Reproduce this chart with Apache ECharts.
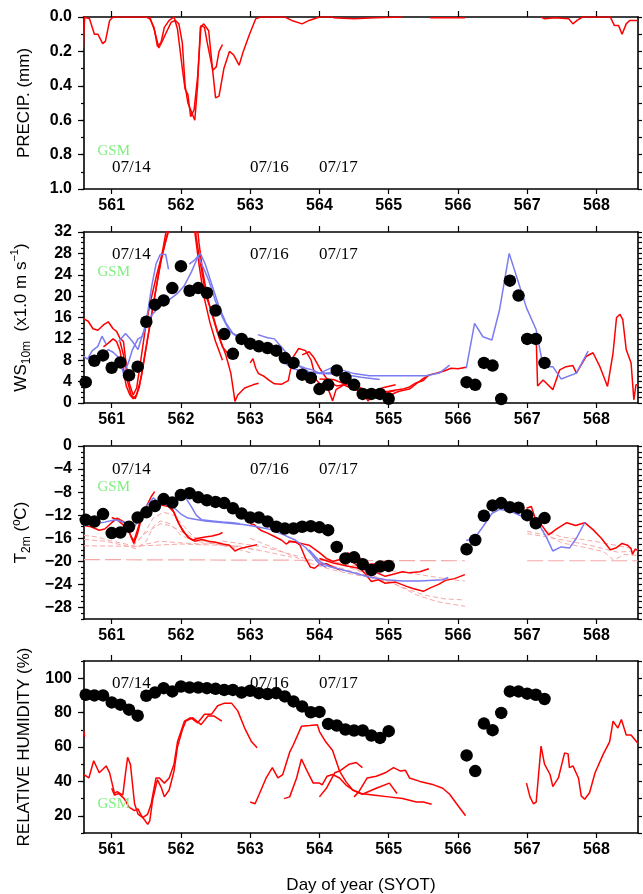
<!DOCTYPE html>
<html><head><meta charset="utf-8">
<script src="https://cdn.jsdelivr.net/npm/echarts@6/dist/echarts.min.js"></script>
<style>html,body{margin:0;padding:0;background:#fff}#c{width:643px;height:894px}</style>
</head><body><div id="c"></div>
<script>
// ---------------- DATA ----------------
const dayTicks = [561,562,563,564,565,566,567,568];
const precipTicks = [0,0.2,0.4,0.6,0.8,1.0];
const wsTicks = [0,4,8,12,16,20,24,28,32];
const tTicks = [0,-4,-8,-12,-16,-20,-24,-28];
const rhTicks = [20,40,60,80,100];

const obsDay = [560.625,560.75,560.875,561,561.125,561.25,561.375,561.5,561.625,561.75,561.875,562,562.125,562.25,562.375,562.5,562.625,562.75,562.875,563,563.125,563.25,563.375,563.5,563.625,563.75,563.875,564,564.125,564.25,564.375,564.5,564.625,564.75,564.875,565,566.125,566.25,566.375,566.5,566.625,566.75,566.875,567,567.125,567.25];
const obsWS = [3.9,7.9,8.9,6.6,7.6,5.2,6.8,15.2,18.4,19.2,21.5,25.6,21.0,21.5,20.6,17.3,12.9,9.2,12.0,11.1,10.6,10.3,9.8,8.4,7.5,5.3,4.7,2.6,3.4,6.1,4.7,3.4,1.7,1.7,1.7,0.8,3.9,3.4,7.5,7.0,0.75,22.9,20.1,12.0,12.0,7.5];
const obsT = [-12.8,-13.1,-11.8,-15.1,-15.0,-14.0,-12.4,-11.5,-10.4,-9.2,-9.8,-8.5,-8.2,-8.9,-9.4,-9.7,-9.9,-10.8,-11.7,-12.4,-12.4,-13.1,-14.0,-14.3,-14.3,-14.0,-13.9,-14.1,-14.6,-17.5,-19.5,-19.3,-20.5,-21.5,-20.9,-20.8,-17.9,-16.3,-12.1,-10.3,-9.9,-10.6,-10.7,-12.0,-13.4,-12.5];
const obsRH = [90.4,90.0,90.0,85.9,84.6,81.7,78.2,89.8,91.7,94.2,92.3,95.2,94.6,94.6,94.2,93.8,93.2,93.2,91.7,92.7,91.3,90.8,91.3,89.4,86.5,83.6,80.2,80.4,73.4,72.5,70.2,69.6,69.6,66.7,65.3,69.2,55.1,46.0,73.6,69.8,79.8,92.3,92.3,91.0,90.4,87.9];

const precipRed = [
 [[560.59,0.18],[560.6,0.08],[560.61,0.0]],
 [[560.6,0.0],[560.68,0.01],[560.75,0.1],[560.8,0.1],[560.87,0.155],[560.91,0.14],[560.97,0.02],[561.02,0.0],[561.5,0.0],[561.55,0.01],[561.61,0.06],[561.66,0.17],[561.71,0.15],[561.76,0.06],[561.83,0.02],[561.9,0.0],[561.95,0.07],[562.02,0.3],[562.06,0.42],[562.1,0.45],[562.14,0.58],[562.19,0.54],[562.24,0.35],[562.29,0.05],[562.34,0.06],[562.38,0.15],[562.46,0.31],[562.51,0.29],[562.55,0.2],[562.6,0.16]],
 [[561.55,0.0],[561.62,0.08],[561.68,0.18],[561.73,0.14],[561.8,0.08],[561.86,0.03],[561.92,0.02],[561.97,0.04],[562.02,0.15],[562.06,0.4],[562.1,0.5],[562.15,0.55],[562.2,0.6],[562.24,0.4],[562.28,0.06],[562.33,0.04],[562.4,0.08],[562.45,0.28],[562.5,0.47],[562.55,0.46],[562.62,0.3],[562.7,0.2],[562.76,0.22],[562.84,0.28],[562.9,0.2],[562.99,0.1],[563.08,0.01],[563.15,0.0],[563.5,0.0],[563.6,0.02],[563.75,0.04],[563.85,0.02],[564.0,0.0],[564.2,0.0]],
 [[564.2,0.005],[564.5,0.01],[564.8,0.005],[565.2,0.0]],
 [[565.6,0.005],[566.1,0.005]],
 [[567.2,0.0],[567.25,0.01],[567.4,0.005],[567.6,0.01],[567.66,0.04],[567.72,0.02],[567.8,0.0],[568.0,0.0]],
 [[568.0,0.0],[568.2,0.0],[568.26,0.05],[568.32,0.05],[568.37,0.1],[568.43,0.04],[568.48,0.02],[568.55,0.02],[568.6,0.02]]
];

const wsRed = [
 [[560.59,15.8],[560.66,15.3],[560.73,13.9],[560.8,13.6],[560.88,14.6],[560.95,15.2],[561.02,13.9],[561.07,13.4],[561.12,12.1],[561.17,11.5],[561.21,7.1],[561.26,3.4],[561.31,1.5],[561.36,2.8],[561.41,7.1],[561.48,13.4],[561.55,18.4],[561.65,24],[561.74,28.4],[561.82,32.1],[561.9,35],[562.15,35],[562.2,32],[562.26,26],[562.33,20],[562.42,15],[562.5,11.5],[562.6,8]],
 [[560.88,10.5],[560.95,11.2],[561.02,12],[561.07,11.5],[561.12,9.8],[561.17,6],[561.21,3.2],[561.26,1.6],[561.31,0.8],[561.36,1.6],[561.43,5],[561.5,10.5],[561.57,16],[561.64,21.5],[561.72,27],[561.8,31.5],[561.85,35],[562.2,35],[562.22,31],[562.27,27],[562.36,20.1],[562.47,16],[562.56,12.1],[562.65,8.9],[562.72,5.6],[562.76,2.1],[562.78,0.3],[562.82,1.5],[562.92,2.8],[563.04,3.4],[563.12,3.7]],
 [[561.12,11.5],[561.17,9],[561.22,4.5],[561.28,1.5],[561.34,0.8],[561.4,3],[561.47,8.5],[561.55,14.5],[561.63,20.5],[561.7,26],[561.77,31],[561.82,35],[562.22,35],[562.26,30],[562.31,25],[562.38,20],[562.45,16.5],[562.53,13],[562.6,10.5],[562.68,9.2],[562.72,8.5]],
 [[563.0,7.5],[563.04,8.3],[563.08,6.5],[563.12,5.5],[563.2,5],[563.28,4.2],[563.35,3.6],[563.45,3.5],[563.55,4.2],[563.62,8.6],[563.7,10.2],[563.8,9.8],[563.88,8],[563.95,4.4],[564.04,3.1],[564.12,2.8],[564.19,0.4],[564.24,2.5],[564.35,3.4],[564.5,2.5],[564.62,2.2],[564.7,0.4],[564.78,1.5],[564.9,2.8],[565.1,3.4]],
 [[563.75,9],[563.85,9.6],[563.92,8.5],[564.0,6.6],[564.08,5],[564.15,3.8],[564.25,3.2],[564.35,3.4],[564.45,4],[564.55,3.2],[564.65,2.4],[564.8,2.2],[564.95,1.8],[565.1,2.4]],
 [[564.0,4.5],[564.2,4.4],[564.4,3.4],[564.6,2.6],[564.8,1.9],[565.0,2.2],[565.2,2.6],[565.3,3],[565.4,3.8],[565.5,4.2],[565.58,5.3]],
 [[565.0,1.4],[565.15,2.2],[565.3,2.6],[565.4,3.6],[565.5,4.6],[565.6,5.3],[565.7,5.6],[565.8,6.0],[565.9,6.5],[566.0,6.4],[566.12,6.7]],
 [[566.99,12.8],[567.06,12.6],[567.13,12.2],[567.15,3.2],[567.23,4.3],[567.37,2.5],[567.47,6.2],[567.56,6.8],[567.66,7.0],[567.71,5.6],[567.85,8.7],[567.95,9.4],[568.05,6.8],[568.16,3.1],[568.24,9.4],[568.29,16],[568.34,16.6],[568.38,15.6],[568.43,10],[568.5,7.5],[568.54,0.6],[568.57,3.4],[568.6,3.4]]
];

const wsBlue = [
 [[560.59,8.8],[560.65,8.2],[560.72,9.8],[560.8,10.6],[560.86,12.5],[560.92,11]],
 [[560.88,9],[560.95,10],[561.02,9.5],[561.1,8.5],[561.17,5.5],[561.24,7.5],[561.3,10],[561.38,12],[561.45,12.5],[561.52,17],[561.58,22],[561.64,26],[561.7,27.8],[561.78,27.8],[561.82,25]],
 [[561.1,11.5],[561.2,13],[561.3,11.5],[561.38,10],[561.45,13],[561.55,16],[561.65,17.5],[561.8,19],[561.95,20.5],[562.05,22],[562.15,24.5],[562.25,27.5],[562.3,26],[562.4,23],[562.5,19],[562.6,16],[562.7,13.5],[562.8,12.5],[562.9,12],[563.0,11.5],[563.1,11],[563.25,10.2],[563.4,9.5],[563.5,8.5],[563.6,7.5],[563.7,7],[563.8,6.5],[563.9,6.2],[564.0,5.6],[564.1,5.6],[564.2,5.7]],
 [[562.12,26],[562.2,26.8],[562.28,28],[562.35,26],[562.45,22],[562.55,18],[562.65,15],[562.75,13],[562.85,12.3]],
 [[563.11,12.8],[563.25,12.2],[563.35,12.0],[563.45,10.5],[563.55,9],[563.65,7.5],[563.75,6.5],[563.85,5.8],[564.0,5.6],[564.23,6.9],[564.34,6.1],[564.5,5.5],[564.72,5.1],[565.0,5.1],[565.3,5.1],[565.54,5.1],[565.73,5.6],[565.88,7.1]],
 [[563.5,7.5],[563.6,6.5],[563.8,5.8],[564.0,5.5],[564.34,5.4],[564.6,4.8],[564.87,4.4]],
 [[566.12,6.5],[566.24,14.9],[566.36,12.4],[566.49,11.8],[566.6,17.4],[566.74,28],[566.86,23.1],[566.99,17.8],[567.13,13.7],[567.23,6.8],[567.37,6.8],[567.49,4.5],[567.71,5.6],[567.88,9.7]]
];

const tRed = [
 [[560.6,-13.8],[560.7,-14],[560.82,-14.6],[560.9,-14.4],[561.0,-13.3],[561.08,-12.5],[561.15,-13],[561.22,-13.5],[561.28,-15.8],[561.32,-16.9],[561.37,-15.3],[561.43,-12.5],[561.5,-10.5],[561.57,-8.8],[561.62,-7.9]],
 [[561.0,-12.4],[561.08,-12.8],[561.15,-13.5],[561.25,-15],[561.32,-16.5],[561.4,-13.5],[561.48,-11],[561.55,-10.5],[561.62,-10],[561.7,-10],[561.8,-10.2],[561.88,-11],[561.95,-13],[562.03,-14.8],[562.1,-15.8],[562.17,-16.3],[562.25,-16],[562.35,-15.8],[562.45,-15.6],[562.55,-15.3],[562.6,-15]],
 [[561.5,-12],[561.6,-10.5],[561.7,-10.2],[561.82,-10.5],[561.9,-11.5],[561.97,-13.5],[562.05,-15],[562.12,-16],[562.2,-16.5],[562.3,-16.2],[562.4,-16.5],[562.5,-16.7],[562.6,-17],[562.7,-17.2],[562.78,-18.2],[562.85,-17.8],[562.95,-17.5],[563.1,-17.1]],
 [[563.0,-13.5],[563.05,-13.6],[563.15,-14.6],[563.25,-15.1],[563.35,-15.7],[563.45,-16.3],[563.52,-17],[563.58,-16.5],[563.65,-16.6],[563.72,-17.2],[563.8,-19.5],[563.87,-21],[563.93,-21.2],[564.0,-20.5],[564.1,-20.4],[564.2,-21],[564.3,-21.5]],
 [[563.55,-16.5],[563.7,-16.8],[563.85,-17.2],[564.0,-18.5],[564.1,-19.5],[564.2,-20],[564.35,-19.5],[564.45,-19.8],[564.55,-20.8],[564.65,-22],[564.75,-23.5],[564.85,-23.2],[564.95,-23.8],[565.1,-23.6],[565.25,-24.3],[565.35,-24.7],[565.5,-25.2],[565.6,-24.6],[565.72,-24],[565.82,-23.3],[565.95,-23],[566.1,-22.3]],
 [[564.0,-19.5],[564.2,-20.3],[564.4,-20.8],[564.6,-21.3],[564.8,-21.8],[564.95,-22.6],[565.05,-22.3],[565.2,-21.8],[565.3,-22],[565.45,-21.8],[565.58,-21.3]],
 [[564.4,-18.5],[564.55,-19.2],[564.7,-20.5],[564.85,-20.4],[565.0,-20.0],[565.08,-20.9]],
 [[566.99,-10.8],[567.06,-10.5],[567.13,-13.1],[567.2,-13.6],[567.31,-15.4],[567.42,-14.4],[567.57,-13.3],[567.7,-13.8],[567.83,-13.3],[567.95,-14.5],[568.07,-16],[568.2,-18],[568.28,-17.7],[568.37,-16.9],[568.45,-17.2],[568.5,-17.8],[568.52,-18.8],[568.56,-17.9],[568.6,-18.1]]
];

const tBlue = [
 [[560.6,-13.8],[560.75,-13.5],[560.9,-13.2],[561.05,-12.8],[561.2,-13.3],[561.32,-14.2],[561.4,-12.5],[561.5,-10.5],[561.6,-9.0],[561.7,-10.0],[561.8,-10.2],[561.9,-10.7],[562.0,-11.8],[562.1,-12.5],[562.2,-12.7],[562.35,-13.0],[562.5,-13.2],[562.7,-13.4],[562.9,-13.6],[563.1,-14.0],[563.3,-14.5],[563.5,-15.5],[563.65,-16.3],[563.8,-17.6],[563.9,-19],[564.0,-20.5],[564.1,-21]],
 [[562.08,-9.2],[562.15,-10.5],[562.22,-12],[562.3,-12.8],[562.45,-13],[562.6,-13.2],[562.75,-13.3],[562.85,-13.5]],
 [[563.85,-18],[564.0,-20],[564.14,-20.9],[564.34,-21.5],[564.53,-22.1],[564.72,-22.7],[564.96,-23.2],[565.2,-23.4],[565.45,-23.4],[565.78,-23.2],[565.86,-22.8]],
 [[566.12,-16.4],[566.24,-16],[566.36,-14],[566.49,-11.7],[566.6,-11.0],[566.74,-11.2],[566.89,-12.0],[567.04,-13.0],[567.18,-13.8],[567.28,-15.9],[567.37,-18.2],[567.49,-17.5],[567.61,-17.7],[567.71,-16],[567.83,-13.3]]
];

const tPink = [
 [[560.6,-16.2],[560.9,-16.5],[561.2,-17.3],[561.35,-17.8],[561.5,-16.5],[561.6,-14],[561.7,-13],[561.85,-13.5],[562.0,-15.5],[562.2,-16.5],[562.5,-17],[562.8,-17.8],[563.0,-18.5]],
 [[561.3,-17.5],[561.45,-15.5],[561.6,-12.5],[561.75,-11.5],[561.9,-12],[562.05,-14],[562.2,-16],[562.5,-17],[562.8,-17.5],[563.1,-18]],
 [[561.3,-17.2],[561.5,-15],[561.7,-13.5],[561.85,-13.8],[562.1,-15.5],[562.4,-16.5],[562.7,-17.2],[563.0,-17.8],[563.3,-18.5],[563.6,-19.3]],
 [[562.6,-16.5],[562.9,-17],[563.2,-17.5],[563.5,-18.5],[563.8,-19.5],[564.1,-20.5],[564.4,-21.5],[564.7,-22.5],[565.0,-23.5]],
 [[563.0,-16],[563.3,-17.5],[563.6,-19],[563.9,-20.5],[564.2,-21.5],[564.5,-22.3],[564.8,-23],[565.1,-23.8]],
 [[564.0,-19.5],[564.3,-20.5],[564.6,-21.8],[564.9,-23],[565.2,-24.5],[565.5,-25.8],[565.8,-26.5],[566.1,-26.7]],
 [[564.2,-20],[564.5,-21.2],[564.8,-22.6],[565.1,-24],[565.4,-25.8],[565.7,-27],[566.1,-27.8]],
 [[563.9,-19.3],[564.3,-20.3],[564.7,-21.2],[565.0,-21.6],[565.3,-22],[565.6,-22.6],[566.0,-23.3],[566.1,-23.4]],
 [[560.6,-15.5],[560.8,-15.8],[561.0,-16.5],[561.2,-17],[561.35,-17.5],[561.5,-17],[561.7,-16.5],[562.0,-16.8],[562.3,-17],[562.6,-16.8]],
 [[560.6,-17.3],[561.3,-17.4],[562.0,-17.0],[562.5,-17.2],[562.9,-17.4]],
 [[567.0,-15.2],[567.3,-15.8],[567.6,-16.5],[567.9,-17.2],[568.1,-17.8],[568.3,-18.4],[568.6,-18.2]],
 [[567.0,-14.8],[567.3,-15.5],[567.5,-16.8],[567.8,-17.5],[568.1,-18.3],[568.25,-19.8],[568.4,-18.8],[568.6,-19]],
 [[567.2,-14.5],[567.5,-15.8],[567.8,-16.2],[568.1,-16.8],[568.4,-17.5],[568.6,-18]]
];
const tPinkLong = [
 [[560.6,-19.7],[566.1,-19.9]],
 [[567.0,-19.9],[568.6,-19.9]]
];

const rhRed = [
 [[560.59,70],[560.61,66]],
 [[560.6,44],[560.67,42],[560.74,52],[560.82,45],[560.92,49],[560.97,45],[561.04,33],[561.08,34],[561.16,32],[561.2,45],[561.23,54],[561.27,50],[561.33,27],[561.38,21],[561.45,19],[561.52,21],[561.57,27],[561.64,42],[561.69,42],[561.76,39],[561.83,42],[561.9,50],[561.95,63],[562.0,69],[562.05,75],[562.14,77],[562.24,74],[562.34,79],[562.44,79],[562.53,84],[562.63,85.5],[562.73,85.5],[562.82,81],[562.92,71],[563.02,63],[563.1,59.5]],
 [[561.0,36],[561.04,32],[561.1,33],[561.18,30],[561.25,25],[561.33,23],[561.38,24],[561.43,20],[561.52,15],[561.55,17],[561.59,29],[561.66,41],[561.72,36],[561.76,31],[561.83,35],[561.9,46],[561.95,60],[562.02,70],[562.07,75],[562.17,77],[562.29,73],[562.39,78],[562.48,78],[562.59,75]],
 [[563.0,28],[563.07,27],[563.13,32.5],[563.23,42],[563.32,48],[563.4,42],[563.47,44],[563.57,57],[563.62,61],[563.74,72],[563.86,72.5],[563.97,73],[564.0,69],[564.09,63],[564.19,58],[564.29,46],[564.38,40],[564.48,35],[564.62,32.5],[564.82,36],[565.01,39],[565.12,33]],
 [[563.49,30],[563.57,31],[563.67,42],[563.74,53],[563.81,47],[563.91,39],[564.0,39],[564.04,38],[564.11,43],[564.19,44],[564.29,42],[564.38,38],[564.48,35],[564.6,33],[564.8,32],[565.0,31],[565.2,30],[565.4,28],[565.5,28],[565.62,26.7]],
 [[564.0,31],[564.1,36],[564.22,45],[564.29,46],[564.43,50],[564.53,51],[564.62,48]],
 [[564.5,31],[564.57,34],[564.69,42],[564.82,43],[564.95,45],[565.07,48],[565.17,46],[565.24,46.5],[565.3,42],[565.45,40],[565.65,38],[565.78,36],[565.88,32.5],[565.98,27],[566.11,20]],
 [[566.99,39],[567.04,31],[567.09,27],[567.13,28],[567.2,60.5],[567.25,50],[567.33,44],[567.37,37],[567.45,42],[567.54,56.6],[567.59,56],[567.61,48],[567.66,49],[567.74,42],[567.78,31.6],[567.83,29.6],[567.9,33.4],[567.98,45],[568.1,56],[568.19,63],[568.24,75],[568.31,71],[568.36,76],[568.43,67],[568.5,67],[568.6,62]]
];

// ---------------- CHART ----------------
const sans = '"Liberation Sans", Arial, Helvetica, sans-serif';
const serif = '"Liberation Serif", "Times New Roman", serif';
const RED = '#ff0000', BLUE = '#7b7bf2', PINK = '#f6a8a8';
const grids = [{top:17,height:172},{top:232,height:171},{top:446,height:173},{top:661,height:172}];
const fmtNum = v => (v < 0 ? '\u2212' + (-v) : String(v));
const yCfg = [
 {min:0,max:1,minor:0.1,inverse:true,labels:precipTicks,fmt:v=>v.toFixed(1),name:'PRECIP. (mm)'},
 {min:0,max:32,minor:1,inverse:false,labels:wsTicks,fmt:fmtNum,name:'{a|WS}{s|10m}{a|  (x1.0 m s}{p|\u22121}{a|)}'},
 {min:-30,max:0,minor:1,inverse:false,labels:tTicks,fmt:fmtNum,name:'{a|T}{s|2m}{a| (\u00baC)}'},
 {min:10,max:110,minor:10,inverse:false,labels:rhTicks,fmt:fmtNum,name:'RELATIVE HUMIDITY (%)'}
];
const axLine = {show:true,onZero:false,lineStyle:{color:'#000',width:1.6}};
const tickStyle = {color:'#000',width:1.2};
const labelFont = {fontSize:16,fontFamily:sans,fontWeight:'bold',color:'#000'};

const gridOpt = [], xAxis = [], yAxis = [], series = [];
grids.forEach((g,i) => {
  gridOpt.push({left:84,right:5,top:g.top,height:g.height,containLabel:false,outerBoundsMode:'none'});
  xAxis.push({type:'value',gridIndex:i,position:'bottom',min:560.6,max:568.6,
    axisLine:axLine,axisTick:{show:true,inside:false,length:5,customValues:dayTicks,lineStyle:tickStyle},
    axisLabel:Object.assign({show:true,customValues:dayTicks,margin:9},labelFont),
    splitLine:{show:false},minorTick:{show:false},
    name: i===3 ? 'Day of year (SYOT)' : '', nameLocation:'middle', nameGap:44,
    nameTextStyle:{fontSize:17,fontFamily:sans,color:'#000'}});
  xAxis.push({type:'value',gridIndex:i,position:'top',min:560.6,max:568.6,
    axisLine:axLine,axisTick:{show:true,inside:false,length:6,customValues:dayTicks,lineStyle:tickStyle},
    axisLabel:{show:false},splitLine:{show:false}});
  const c = yCfg[i];
  yAxis.push({type:'value',gridIndex:i,position:'left',min:c.min,max:c.max,inverse:c.inverse,
    axisLine:axLine,axisTick:{show:true,inside:false,length:6,customValues:c.labels,lineStyle:tickStyle},
    axisLabel:Object.assign({show:true,customValues:c.labels,formatter:c.fmt,margin:12},labelFont),
    splitLine:{show:false},
    name:c.name,nameLocation:'middle',nameRotate:90,nameGap:51,
    nameTextStyle:{fontSize:17,fontFamily:sans,color:'#000',
      rich:{a:{fontSize:17,fontFamily:sans,color:'#000',lineHeight:24,verticalAlign:'middle'},
            s:{fontSize:12,fontFamily:sans,color:'#000',lineHeight:12,verticalAlign:'bottom'},
            p:{fontSize:11,fontFamily:sans,color:'#000',lineHeight:11,verticalAlign:'top'}}}});
  yAxis.push({type:'value',gridIndex:i,position:'left',min:c.min,max:c.max,inverse:c.inverse,interval:c.minor,
    axisLine:{show:false,onZero:false},axisTick:{show:true,inside:false,length:3,lineStyle:tickStyle},
    axisLabel:{show:false},splitLine:{show:false}});
  yAxis.push({type:'value',gridIndex:i,position:'right',min:c.min,max:c.max,inverse:c.inverse,interval:c.minor,
    axisLine:axLine,axisTick:{show:true,inside:false,length:4,lineStyle:tickStyle},
    axisLabel:{show:false},splitLine:{show:false}});
});

function addLines(list, gi, color, width, dash, z) {
  list.forEach(d => series.push({type:'line',xAxisIndex:2*gi,yAxisIndex:3*gi,data:d,
    symbol:'none',showSymbol:false,clip:true,silent:true,z:z,
    lineStyle:{color:color,width:width,type:dash||'solid',opacity:1}}));
}
function addDots(vals, gi) {
  series.push({type:'scatter',xAxisIndex:2*gi,yAxisIndex:3*gi,
    data:obsDay.map((d,k)=>[d,vals[k]]),symbol:'circle',symbolSize:12.5,
    itemStyle:{color:'#000',opacity:1,borderWidth:0},silent:true,z:10});
}
addLines(precipRed,0,RED,1.5,null,3);
addLines(wsRed,1,RED,1.5,null,3);
addLines(wsBlue,1,BLUE,1.5,null,4);
addDots(obsWS,1);
addLines(tPink,2,PINK,1,[5,3],2);
addLines(tPinkLong,2,PINK,1.2,[16,5],2);
addLines(tRed,2,RED,1.5,null,3);
addLines(tBlue,2,BLUE,1.5,null,4);
addDots(obsT,2);
addLines(rhRed,3,RED,1.5,null,3);
addDots(obsRH,3);

const notes = [
  {y:168,g:151},{y:255,g:272},{y:470,g:487},{y:684,g:804}
];
const graphic = [];
notes.forEach(n => {
  [['07/14',112],['07/16',250],['07/17',319]].forEach(([t,x]) => graphic.push({type:'text',x:x,y:n.y,z:20,
    style:{text:t,font:'17px ' + serif,fill:'#000',verticalAlign:'middle',align:'left'}}));
  graphic.push({type:'text',x:97.5,y:n.g,z:20,
    style:{text:'GSM',font:'15px ' + serif,fill:'#80ee80',verticalAlign:'middle',align:'left'}});
});

const chart = echarts.init(document.getElementById('c'), null, {renderer:'canvas'});
chart.setOption({animation:false,backgroundColor:'#fff',grid:gridOpt,xAxis:xAxis,yAxis:yAxis,series:series,graphic:graphic});
</script>
</body></html>
